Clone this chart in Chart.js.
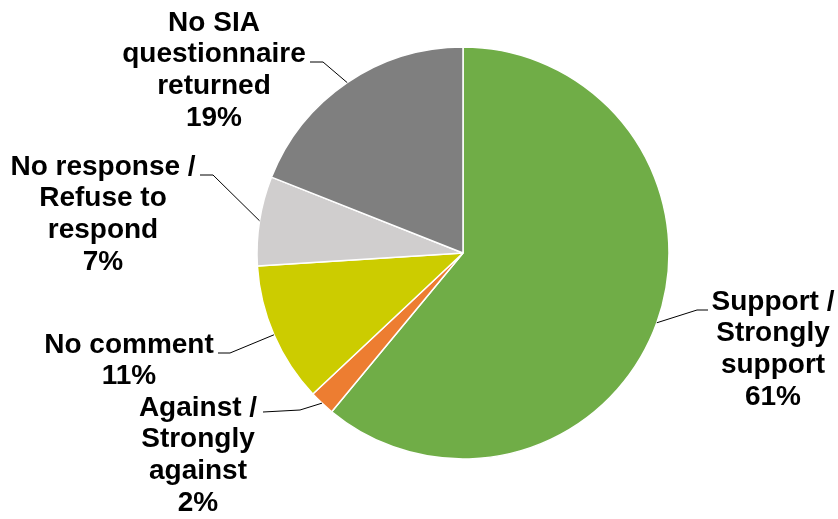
<!DOCTYPE html>
<html>
<head>
<meta charset="utf-8">
<script src="https://cdn.jsdelivr.net/npm/chart.js@4/dist/chart.umd.min.js"></script>
<style>
  html, body { margin: 0; padding: 0; background: #ffffff; }
  #wrap { width: 838px; height: 519px; position: relative; }
</style>
</head>
<body>
<div id="wrap"><canvas id="chart" width="838" height="519"></canvas></div>
<script>
// Survey response categories, in drawing order (clockwise from 12 o'clock)
const categories = [
  'Support / Strongly support',
  'Against / Strongly against',
  'No comment',
  'No response / Refuse to respond',
  'No SIA questionnaire returned'
];
// Share of responses, percent
const shares = [61, 2, 11, 7, 19];
// Label text, line by line (the last line is the percentage)
const labelLines = [
  ['Support /', 'Strongly', 'support'],
  ['Against /', 'Strongly', 'against'],
  ['No comment'],
  ['No response /', 'Refuse to', 'respond'],
  ['No SIA', 'questionnaire', 'returned']
];
const sliceColors = ['#70AD47', '#ED7D31', '#CCCC00', '#D0CECE', '#7F7F7F'];

// Where each callout sits: text centre x, first line y, and the leader's
// elbow / text-side end points.
const callouts = [
  { cx: 773, y0: 302, elbow: [697, 310], end: [708, 310] },
  { cx: 198, y0: 408, elbow: [300, 410], end: [263, 412] },
  { cx: 129, y0: 345, elbow: [230, 353], end: [218, 353] },
  { cx: 103, y0: 167, elbow: [213, 175], end: [200, 175] },
  { cx: 214, y0: 23,  elbow: [323, 62],  end: [310, 62] }
];

const calloutPlugin = {
  id: 'callouts',
  afterDatasetsDraw(chart) {
    const ctx = chart.ctx;
    const meta = chart.getDatasetMeta(0);
    ctx.save();
    meta.data.forEach((arc, i) => {
      const mid = (arc.startAngle + arc.endAngle) / 2;
      const px = arc.x + Math.cos(mid) * arc.outerRadius;
      const py = arc.y + Math.sin(mid) * arc.outerRadius;
      const c = callouts[i];
      ctx.beginPath();
      ctx.strokeStyle = '#000000';
      ctx.lineWidth = 1;
      ctx.moveTo(px, py);
      ctx.lineTo(c.elbow[0], c.elbow[1]);
      ctx.lineTo(c.end[0], c.end[1]);
      ctx.stroke();

      const lines = labelLines[i].concat([shares[i] + '%']);
      ctx.fillStyle = '#000000';
      ctx.font = 'bold 28px "Liberation Sans", Arial, sans-serif';
      ctx.textAlign = 'center';
      ctx.textBaseline = 'middle';
      lines.forEach((t, k) => {
        ctx.fillText(t, c.cx, c.y0 + k * 31.7);
      });
    });
    ctx.restore();
  }
};

new Chart(document.getElementById('chart'), {
  type: 'pie',
  data: {
    labels: categories,
    datasets: [{
      data: shares,
      backgroundColor: sliceColors,
      borderColor: '#ffffff',
      borderWidth: 1.5
    }]
  },
  options: {
    responsive: false,
    animation: false,
    radius: 206,
    layout: { padding: { left: 88, right: 0, top: 0, bottom: 13 } },
    plugins: {
      legend: { display: false },
      tooltip: { enabled: false }
    }
  },
  plugins: [calloutPlugin]
});
</script>
</body>
</html>
